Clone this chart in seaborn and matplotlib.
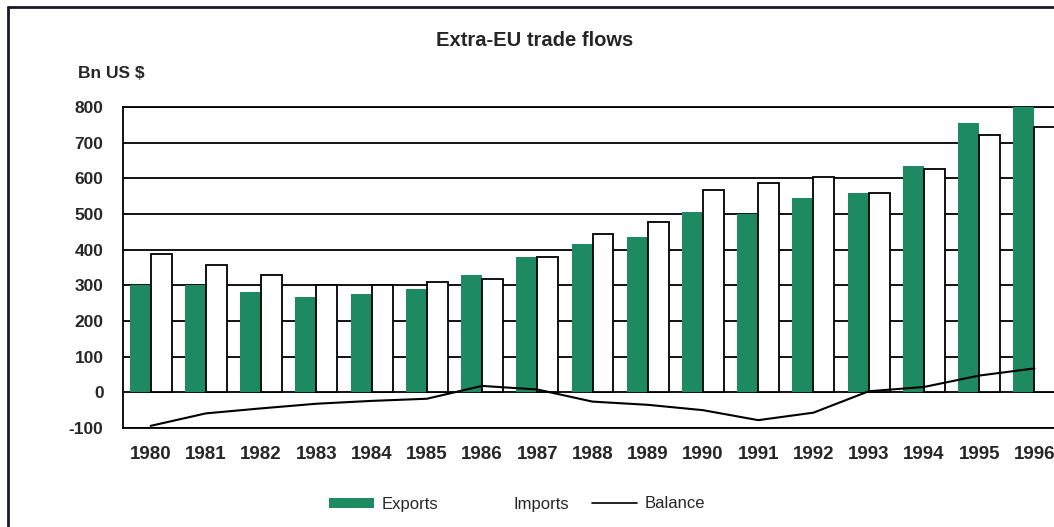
import numpy as np
import pandas as pd
import matplotlib
matplotlib.use("Agg")
import matplotlib.pyplot as plt
import seaborn as sns
from matplotlib.patches import Patch
from matplotlib.lines import Line2D

# Values (bn US $)
years = ["1980", "1981", "1982", "1983", "1984", "1985", "1986", "1987", "1988",
         "1989", "1990", "1991", "1992", "1993", "1994", "1995", "1996"]
exports = [300, 300, 280, 266, 277, 291, 330, 379, 416, 435, 506, 499, 545, 559, 634, 756, 800]
imports = [389, 356, 328, 300, 300, 310, 319, 379, 443, 477, 567, 587, 605, 558, 627, 721, 745]
balance = [-94, -59, -45, -32, -24, -18, 18, 8, -26, -35, -50, -78, -57, 3, 15, 47, 67]

GREEN = "#1e8a62"

sns.set_style("white")
plt.rcParams["font.family"] = ["Liberation Sans", "DejaVu Sans"]
plt.rcParams["axes.unicode_minus"] = False


def build_frame():
    df = pd.DataFrame({"year": years, "Exports": exports, "Imports": imports})
    return df.melt(id_vars="year", var_name="flow", value_name="value")


def main():
    fig = plt.figure(figsize=(10.54, 5.27), dpi=100)
    fig.patch.set_facecolor("white")

    # axes run past the right edge, like the cropped scan
    ax = fig.add_axes([123 / 1054, 1 - 428 / 527, 939 / 1054, 321 / 527])

    long_df = build_frame()
    sns.barplot(data=long_df, x="year", y="value", hue="flow", order=years,
                hue_order=["Exports", "Imports"],
                palette={"Exports": GREEN, "Imports": "white"},
                width=0.76, gap=0, saturation=1, legend=False, ax=ax, zorder=3)

    # white import bars get a black outline, export bars stay plain
    for bar in ax.containers[0]:
        bar.set_edgecolor("none")
    for bar in ax.containers[1]:
        bar.set_edgecolor("black")
        bar.set_linewidth(1.3)

    sns.lineplot(x=np.arange(len(years)), y=balance, color="black", lw=1.5,
                 ax=ax, zorder=4)

    ax.set_xlim(-0.5, len(years) - 0.5)
    ax.set_ylim(-100, 800)
    ax.set_yticks(range(-100, 801, 100))
    ax.yaxis.grid(True, color="black", lw=1.3)
    ax.set_axisbelow(True)
    ax.set_xlabel("")
    ax.set_ylabel("")
    ax.tick_params(axis="y", length=0, labelsize=12.5, pad=14)
    ax.tick_params(axis="x", length=0, labelsize=13.5, pad=13)
    for lab in ax.get_xticklabels() + ax.get_yticklabels():
        lab.set_fontweight("bold")
    for side in ["left", "top", "bottom", "right"]:
        ax.spines[side].set_color("black")
        ax.spines[side].set_linewidth(1.3)

    fig.text(535 / 1054, 1 - 40 / 527, "Extra-EU trade flows", ha="center",
             va="center", fontsize=14.5, fontweight="bold")
    fig.text(78 / 1054, 1 - 73 / 527, "Bn US $", ha="left", va="center",
             fontsize=12.5, fontweight="bold")

    # legend along the bottom
    handles = [Patch(facecolor=GREEN, edgecolor="none"),
               Patch(facecolor="white", edgecolor="none"),
               Line2D([0], [0], color="black", lw=1.2)]
    fig.legend(handles, ["Exports", "Imports", "Balance"], loc="center",
               bbox_to_anchor=(517 / 1054, 1 - 504 / 527), ncol=3, frameon=False,
               fontsize=12, handlelength=2.7, handleheight=0.55,
               handletextpad=0.45, columnspacing=1.35)

    # frame of the scanned page (only top and left visible)
    fig.add_artist(Line2D([8 / 1054, 8 / 1054], [0, 1 - 7 / 527], color="#1a1a2e", lw=2))
    fig.add_artist(Line2D([8 / 1054, 1], [1 - 7 / 527, 1 - 7 / 527], color="#1a1a2e", lw=2))

    fig.savefig("out.png", dpi=100)


if __name__ == "__main__":
    main()
